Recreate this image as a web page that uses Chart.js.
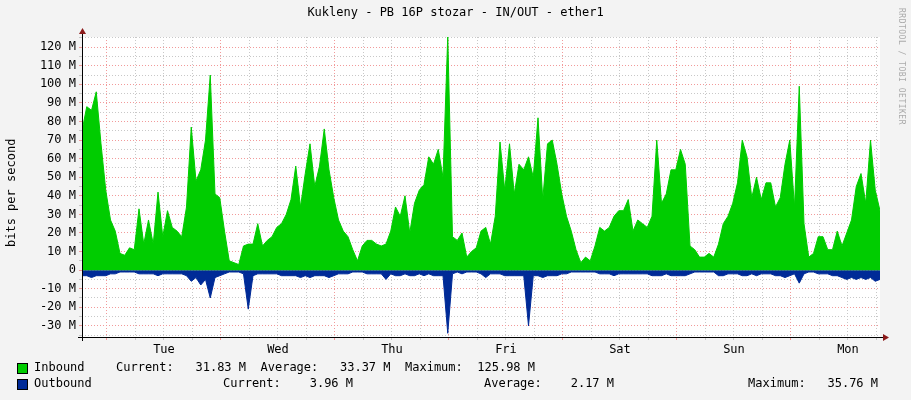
<!DOCTYPE html>
<html>
<head>
<meta charset="UTF-8">
<title>ether1</title>
<script src="https://cdn.jsdelivr.net/npm/chart.js"></script>
<style>
  body { margin: 0; background: #f3f3f3; font-family: "DejaVu Sans Mono", monospace; font-size: 12px; color: #000; }
  #wrap { position: absolute; left: 0; top: 0; width: 911px; height: 400px; }
  .t { position: absolute; white-space: pre; }
  .sq { position: absolute; width: 9px; height: 9px; border: 1px solid #000; }
  #mark { position: absolute; left: 897px; top: 8px; writing-mode: vertical-rl; font-size: 8px; color: #aaa; letter-spacing: 0.5px; }
</style>
</head>
<body>
<div id="wrap"><canvas id="c" width="911" height="400"></canvas></div>
<div class="t" style="left:0;width:911px;text-align:center;top:5px;">Kukleny - PB 16P stozar - IN/OUT - ether1</div>
<div class="t" style="left:4px;top:247px;transform-origin:0 0;transform:rotate(-90deg);">bits per second</div>
<div id="mark">RRDTOOL / TOBI OETIKER</div>
<div class="sq" style="left:17px;top:363px;background:#00cc00;"></div>
<div class="t" style="left:34px;top:360px;">Inbound</div>
<div class="t" style="left:116px;top:360px;">Current:   31.83 M  Average:   33.37 M  Maximum:  125.98 M</div>
<div class="sq" style="left:17px;top:379px;background:#002a97;"></div>
<div class="t" style="left:34px;top:376px;">Outbound</div>
<div class="t" style="left:223px;top:376px;">Current:    3.96 M</div>
<div class="t" style="left:484px;top:376px;">Average:    2.17 M</div>
<div class="t" style="left:748px;top:376px;">Maximum:   35.76 M</div>
<script>
// hourly samples, Mbit/s, starting ~5h before Tuesday midnight
const dayLabels = ['Tue', 'Wed', 'Thu', 'Fri', 'Sat', 'Sun', 'Mon'];
const firstMidnight = 5.26;
const inbound = [
  75, 88, 86, 96, 68, 43, 27, 21, 9, 8, 12, 11, 33, 14, 27, 14, 42, 18, 32, 23,
  21, 18, 34, 77, 48, 54, 70, 105, 41, 39, 21, 5, 4, 3, 13, 14, 14, 25, 13, 16,
  18, 23, 25, 30, 38, 56, 34, 52, 68, 45, 56, 76, 54, 39, 27, 21, 18, 11, 5, 13,
  16, 16, 14, 13, 14, 21, 34, 29, 40, 20, 36, 43, 46, 61, 57, 65, 50, 126, 18, 16,
  20, 7, 10, 12, 21, 23, 14, 29, 69, 43, 68, 41, 57, 54, 61, 50, 82, 38, 68, 70,
  57, 41, 29, 21, 11, 4, 7, 5, 13, 23, 21, 23, 29, 32, 32, 38, 21, 27, 25, 23,
  29, 70, 36, 41, 54, 54, 65, 57, 13, 11, 7, 7, 9, 7, 14, 25, 29, 36, 47, 70,
  61, 39, 50, 38, 47, 47, 34, 39, 57, 70, 34, 99, 25, 7, 9, 18, 18, 11, 11, 21,
  13, 20, 27, 45, 52, 36, 70, 43, 32
];
const outbound = [
  -3, -3, -4, -3, -3, -3, -2, -2, -1, -1, -1, -1, -2, -2, -2, -2, -3, -2, -2, -2,
  -2, -2, -3, -6, -4, -8, -5, -15, -4, -3, -2, -1, -1, -1, -2, -21, -3, -2, -2, -2,
  -2, -2, -3, -3, -3, -3, -4, -3, -4, -3, -3, -3, -4, -3, -2, -2, -2, -1, -1, -1,
  -2, -2, -2, -2, -5, -2, -3, -3, -2, -3, -3, -2, -3, -2, -3, -3, -3, -34, -2, -1,
  -2, -1, -1, -1, -2, -4, -2, -2, -2, -3, -3, -3, -3, -3, -30, -3, -3, -4, -3, -3,
  -3, -2, -2, -1, -1, -1, -1, -1, -1, -2, -2, -2, -3, -2, -2, -2, -2, -2, -2, -2,
  -3, -3, -3, -2, -3, -3, -3, -3, -2, -1, -1, -1, -1, -1, -3, -3, -2, -2, -2, -3,
  -3, -2, -3, -2, -2, -2, -3, -3, -4, -3, -2, -7, -2, -1, -1, -2, -2, -2, -3, -3,
  -4, -5, -4, -5, -4, -5, -4, -6, -5
];

const pts = arr => arr.map((v, i) => ({ x: i, y: v }));
const sixHourTicks = [];
for (let t = firstMidnight - 6; t <= 168; t += 6) if (t >= 0) sixHourTicks.push(t);

const frame = {
  id: 'frame',
  afterDraw(chart) {
    const { ctx, chartArea: a } = chart;
    ctx.save();
    ctx.strokeStyle = '#000';
    ctx.lineWidth = 1;
    ctx.beginPath();
    ctx.moveTo(a.left + 0.5, a.top - 6);
    ctx.lineTo(a.left + 0.5, a.bottom + 4);
    ctx.moveTo(a.left - 4, a.bottom + 0.5);
    ctx.lineTo(a.right + 6, a.bottom + 0.5);
    ctx.stroke();
    ctx.fillStyle = '#8b1a1a';
    ctx.beginPath();
    ctx.moveTo(a.left - 3, a.top - 3); ctx.lineTo(a.left + 4, a.top - 3); ctx.lineTo(a.left + 0.5, a.top - 9); ctx.fill();
    ctx.beginPath();
    ctx.moveTo(a.right + 3, a.bottom - 3); ctx.lineTo(a.right + 3, a.bottom + 4); ctx.lineTo(a.right + 9, a.bottom + 0.5); ctx.fill();
    ctx.restore();
  }
};
const plotBg = {
  id: 'plotBg',
  beforeDraw(chart) {
    const { ctx, chartArea: a } = chart;
    ctx.fillStyle = '#fff';
    ctx.fillRect(a.left, a.top, a.right - a.left, a.bottom - a.top);
  }
};

new Chart(document.getElementById('c'), {
  type: 'line',
  data: {
    datasets: [
      { data: pts(inbound), borderColor: '#00cc00', backgroundColor: '#00cc00', fill: 'origin', borderWidth: 1, pointRadius: 0, tension: 0 },
      { data: pts(outbound), borderColor: '#002a97', backgroundColor: '#002a97', fill: 'origin', borderWidth: 1, pointRadius: 0, tension: 0 }
    ]
  },
  options: {
    responsive: false,
    animation: false,
    plugins: { legend: { display: false }, tooltip: { enabled: false } },
    layout: { padding: { top: 37, right: 31, bottom: 43, left: 0 } },
    scales: {
      x: {
        type: 'linear', min: 0, max: 168,
        afterBuildTicks: s => { s.ticks = sixHourTicks.map(v => ({ value: v })); },
        afterFit: s => { s.height = 20; },
        ticks: {
          autoSkip: false, maxRotation: 0, color: '#000',
          font: { family: 'DejaVu Sans Mono', size: 12 },
          callback: v => {
            const k = Math.round((v - firstMidnight) / 6);
            if (((k % 4) + 4) % 4 !== 2) return '';
            return dayLabels[Math.floor(k / 4)] || '';
          }
        },
        grid: {
          color: c => {
            const k = Math.round((c.tick.value - firstMidnight) / 6);
            return k % 4 === 0 ? '#f29a9a' : '#c8c8c8';
          },
          tickLength: 3
        },
        border: { display: false, dash: [1, 2] }
      },
      y: {
        min: -36, max: 125.5,
        afterBuildTicks: s => { const t = []; for (let v = -35; v <= 125; v += 5) t.push({ value: v }); s.ticks = t; },
        afterFit: s => { s.width = 82; },
        ticks: {
          autoSkip: false, color: '#000', font: { family: 'DejaVu Sans Mono', size: 12 },
          callback: v => (v % 10 !== 0 ? '' : v === 0 ? '0' : v + ' M')
        },
        grid: {
          color: c => (c.tick.value % 10 === 0 ? '#f29a9a' : '#c8c8c8'),
          tickLength: 3
        },
        border: { display: false, dash: [1, 2] }
      }
    }
  },
  plugins: [plotBg, frame]
});
</script>
</body>
</html>
